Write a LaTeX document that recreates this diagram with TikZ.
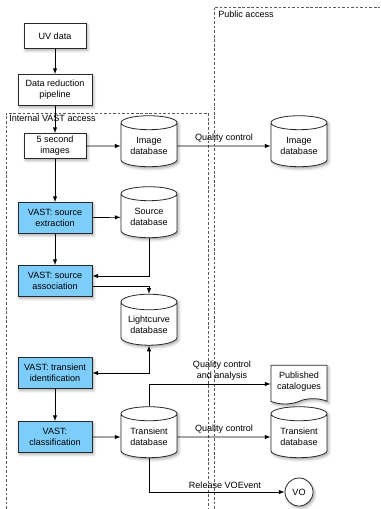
\documentclass[tikz,border=0pt]{standalone}
\usepackage{fontspec}
\setmainfont{Liberation Sans}
\usepackage{xcolor}
\usepackage{tikz}
\usetikzlibrary{positioning,shapes.geometric,shapes.symbols,arrows,shadows.blur}

\definecolor{vastblue}{RGB}{125,205,250}
\definecolor{edge}{RGB}{40,40,40}

\tikzset{
  shade/.style={blur shadow={shadow xshift=1.2pt, shadow yshift=-1.4pt, shadow blur steps=4, shadow opacity=35}},
  proc/.style={draw=edge, line width=0.6pt, rectangle, fill=white, align=center, inner sep=1pt, minimum width=46.5pt, minimum height=18.75pt, shade},
  wide/.style={proc, minimum width=55.5pt, minimum height=23.25pt},
  vast/.style={wide, fill=vastblue},
  dbase/.style={draw=edge, line width=0.6pt, cylinder, shape border rotate=90, aspect=0.35, fill=white, align=center, inner sep=1pt, minimum width=42pt, minimum height=38.25pt, shade},
  docu/.style={draw=edge, line width=0.6pt, tape, tape bend top=none, tape bend height=4pt, fill=white, align=center, inner sep=1pt, minimum width=42pt, minimum height=29pt, shade},
  pub/.style={draw=edge, line width=0.6pt, circle, fill=white, inner sep=0pt, minimum size=21pt, shade},
  area/.style={draw=black!65, line width=0.5pt, dash pattern=on 2pt off 1.4pt},
  flow/.style={->, line width=0.5pt},
  lbl/.style={align=center, inner sep=2.5pt}
}

\begin{document}
\begin{tikzpicture}[x=0.75pt, y=-0.75pt, >=latex, font=\fontsize{6.8}{8.3}\selectfont]
  \useasboundingbox (0,0) rectangle (380,509);

  % access areas
  \draw[area] (6,509) -- (6,113) -- (208,113) -- (208,509);
  \draw[area] (214,509) -- (214,7) -- (380,7);
  \node[anchor=west, inner sep=0pt] (intlbl) at (9,118) {Internal VAST access};
  \node[anchor=west, inner sep=0pt] (publbl) at (218,14) {Public access};

  % pipeline
  \node[proc] (uv) at (55,36) {UV data};
  \node[wide] (pipe) at (55,90) {Data reduction\\pipeline};
  \node[proc] (img5) at (55,146) {5 second\\images};
  \node[vast] (extract) at (55,218) {VAST: source\\extraction};
  \node[vast] (assoc) at (55,281) {VAST: source\\association};
  \node[vast] (ident) at (55,373) {VAST: transient\\identification};
  \node[vast] (classif) at (55,437) {VAST:\\classification};

  % databases
  \node[dbase] (imgdb) at (149,146) {Image\\database};
  \node[dbase] (srcdb) at (149,217) {Source\\database};
  \node[dbase] (lcdb) at (149,325) {Lightcurve\\database};
  \node[dbase] (trdb) at (149,437) {Transient\\database};

  % public side
  \node[dbase] (pubimg) at (299,146) {Image\\database};
  \node[docu] (cats) at (299,382) {Published\\catalogues};
  \node[dbase] (pubtr) at (299,437) {Transient\\database};
  \node[pub] (vo) at (299,492) {VO};

  \draw[flow] (uv) -- (pipe);
  \draw[flow] (pipe) -- (img5);
  \draw[flow] (img5) -- (imgdb);
  \draw[flow] (imgdb) -- node[lbl, above] {Quality control} (pubimg);
  \draw[flow] (img5) -- (extract);
  \draw[flow] (extract) -- (srcdb);
  \draw[flow] (extract) -- (assoc);
  \draw[flow] (srcdb.south) |- ([yshift=3.75pt]assoc.east);
  \draw[flow] ([yshift=-3.75pt]assoc.east) -| (lcdb.north);
  \draw[<->, line width=0.5pt] (lcdb.south) |- (ident.east);
  \draw[flow] (ident) -- (classif);
  \draw[flow] (classif) -- (trdb);
  \draw[flow] (trdb.north) |- node[lbl, above, pos=0.8] {Quality control\\and analysis} ([yshift=-1.5pt]cats.west);
  \draw[flow] (trdb) -- node[lbl, above] {Quality control} (pubtr);
  \draw[flow] (trdb.south) |- node[lbl, above, pos=0.78] {Release VOEvent} (vo);
\end{tikzpicture}
\end{document}
